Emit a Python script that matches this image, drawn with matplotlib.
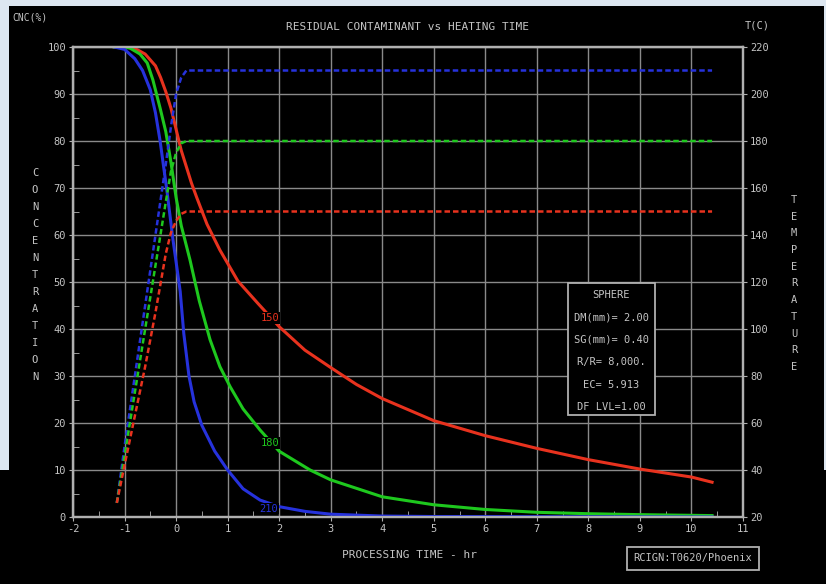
import matplotlib
matplotlib.use('Agg')
import matplotlib.pyplot as plt
from matplotlib.patches import Rectangle
from matplotlib.ticker import MultipleLocator

plt.rcParams['font.family'] = ['DejaVu Sans Mono']

# ---------------- data ----------------
x_ticks = list(range(-2, 12))
c_ticks = list(range(0, 101, 10))
t_ticks = list(range(20, 221, 20))

# residual concentration (%) vs time (hr)
red_c_t = [-1.2, -1.0, -0.8, -0.6, -0.4, -0.3, -0.2, -0.1, 0.0, 0.1, 0.2, 0.3, 0.4, 0.6, 0.85,
           1.2, 1.6, 2.0, 2.5, 3.0, 3.5, 4.0, 5.0, 6.0, 7.0, 8.0, 9.0, 10.0, 10.4]
red_c = [100, 100, 99.7, 98.5, 96, 93.5, 90.5, 87, 82.5, 78, 74.5, 71, 68, 62.3, 56.8,
         50.2, 45.3, 40.5, 35.5, 31.8, 28.2, 25.2, 20.5, 17.3, 14.6, 12.2, 10.2, 8.5, 7.4]

green_c_t = [-1.2, -0.9, -0.7, -0.56, -0.45, -0.31, -0.2, -0.1, 0.0, 0.1, 0.27, 0.45, 0.66,
             0.85, 1.05, 1.3, 1.63, 2.0, 2.6, 3.0, 4.0, 5.0, 6.0, 7.0, 8.0, 9.0, 10.4]
green_c = [100, 99.8, 98.5, 96.6, 93, 87, 82, 75.5, 68, 62, 54.7, 46, 37.7,
           32, 27.7, 23, 18.5, 14, 10, 7.9, 4.3, 2.6, 1.6, 1.0, 0.7, 0.5, 0.3]

blue_c_t = [-1.2, -1.0, -0.8, -0.65, -0.5, -0.4, -0.31, -0.18, -0.06, 0.08, 0.15, 0.25, 0.35,
            0.5, 0.75, 1.0, 1.3, 1.63, 2.0, 2.5, 3.0, 4.0, 5.0, 10.4]
blue_c = [100, 99.5, 97.5, 95, 90.9, 86, 80, 69.6, 59, 48, 39, 30, 24.5,
          19.5, 14, 10, 6, 3.6, 2.2, 1.2, 0.6, 0.2, 0.1, 0.0]

# temperature (C) vs time (hr)
temp_t = [-1.15, -1.0, -0.8, -0.6, -0.4, -0.2, -0.1, 0.0, 0.1, 0.2, 10.4]
blue_T = [26, 50, 80, 110, 140, 170, 186, 200, 207, 210, 210]
green_T = [26, 46, 73, 100, 127, 154, 167, 175, 179, 180, 180]
red_T = [26, 42, 63, 84, 107, 132, 141, 146, 149, 150, 150]

curve_labels = ['150', '180', '210']
label_pos_t = [1.82, 1.82, 1.8]
label_pos_c = [42.3, 15.7, 1.8]

info_lines = ['SPHERE', 'DM(mm)= 2.00', 'SG(mm)= 0.40', 'R/R= 8,000.', 'EC= 5.913', 'DF LVL=1.00']

# ---------------- figure ----------------
W, H = 826, 584
fig = plt.figure(figsize=(W / 100, H / 100), dpi=100)
fig.patch.set_facecolor('#dde7f1')


def fx(x):
    return x / W


def fy(y):
    return 1 - y / H


fig.patches.append(Rectangle((fx(9), fy(470)), (824 - 9) / W, (470 - 6) / H,
                             transform=fig.transFigure, facecolor='black', edgecolor='none', zorder=-10))
fig.patches.append(Rectangle((0, 0), 1, fy(470), transform=fig.transFigure,
                             facecolor='black', edgecolor='none', zorder=-10))

ax = fig.add_axes([fx(73), fy(517), 670 / W, 470 / H])
ax.set_facecolor('black')
ax.set_xlim(-2, 11)
ax.set_ylim(0, 100)
ax2 = ax.twinx()
ax2.set_ylim(20, 220)
ax2.patch.set_visible(False)

TXT = '#c4c4c4'
SP = '#b0b0b0'
GRID = '#8a8a8a'

ax.set_axisbelow(True)
ax.set_xticks(x_ticks)
ax.set_xticklabels([str(v) for v in x_ticks])
ax.set_yticks(c_ticks)
ax.set_yticklabels([str(v) for v in c_ticks])
ax2.set_yticks(t_ticks)
ax2.set_yticklabels([str(v) for v in t_ticks])
ax.grid(True, which='major', color=GRID, lw=1.0)
ax.xaxis.set_minor_locator(MultipleLocator(0.5))
ax.yaxis.set_minor_locator(MultipleLocator(5))

for a in (ax, ax2):
    for s in a.spines.values():
        s.set_color(SP)
        s.set_linewidth(1.6)
    a.tick_params(which='major', length=3, direction='out', color=SP,
                  labelcolor=TXT, labelsize=7.5, pad=2)
    a.tick_params(which='minor', length=4, direction='in', color=SP)

# concentration curves
ax.plot(red_c_t, red_c, color='#e8321e', lw=2.2, zorder=3)
ax.plot(green_c_t, green_c, color='#1ec81e', lw=2.2, zorder=3)
ax.plot(blue_c_t, blue_c, color='#2632dc', lw=2.2, zorder=3)

# temperature curves
dash = (0, (2.2, 1.2))
ax2.plot(temp_t, blue_T, color='#2632dc', lw=1.8, ls=dash, zorder=3)
ax2.plot(temp_t, green_T, color='#1ec81e', lw=1.8, ls=dash, zorder=3)
ax2.plot(temp_t, red_T, color='#e8321e', lw=1.8, ls=dash, zorder=3)

label_colors = ['#e8321e', '#1ec81e', '#2632dc']
for lab, tt, cc, col in zip(curve_labels, label_pos_t, label_pos_c, label_colors):
    ax2.text(tt, 20 + 2 * cc, lab, color=col, fontsize=7.5, ha='center', va='center', zorder=6,
             bbox=dict(facecolor='black', edgecolor='none', pad=0.5))

# info box
ax2.add_patch(Rectangle((fx(568), fy(415)), (655 - 568) / W, (415 - 283) / H,
                        transform=fig.transFigure, facecolor='black', edgecolor=SP, lw=1.3, zorder=7))
info_y = [295, 318, 340, 362, 385, 407]
for line, yy in zip(info_lines, info_y):
    fig.text(fx(611), fy(yy), line, color=TXT, fontsize=7.5, ha='center', va='center', zorder=8)

# texts
fig.text(fx(30), fy(18), 'CNC(%)', color=TXT, fontsize=7, ha='center', va='center')
fig.text(fx(408), fy(27), 'RESIDUAL CONTAMINANT vs HEATING TIME', color=TXT, fontsize=8,
         ha='center', va='center')
fig.text(fx(757), fy(25), 'T(C)', color=TXT, fontsize=7.5, ha='center', va='center')
fig.text(fx(410), fy(555), 'PROCESSING TIME - hr', color=TXT, fontsize=8, ha='center', va='center')

for i, ch in enumerate('CONCENTRATION'):
    fig.text(fx(35), fy(173 + i * 17), ch, color=TXT, fontsize=7.5, ha='center', va='center')
for i, ch in enumerate('TEMPERATURE'):
    fig.text(fx(794), fy(200 + i * 16.7), ch, color=TXT, fontsize=7.5, ha='center', va='center')

fig.patches.append(Rectangle((fx(627), fy(570)), (759 - 627) / W, (570 - 547) / H,
                             transform=fig.transFigure, facecolor='black', edgecolor=SP, lw=1.3))
fig.text(fx(693), fy(558.5), 'RCIGN:T0620/Phoenix', color=TXT, fontsize=7.5, ha='center', va='center')

fig.savefig('out.png', dpi=100, facecolor=fig.get_facecolor())
